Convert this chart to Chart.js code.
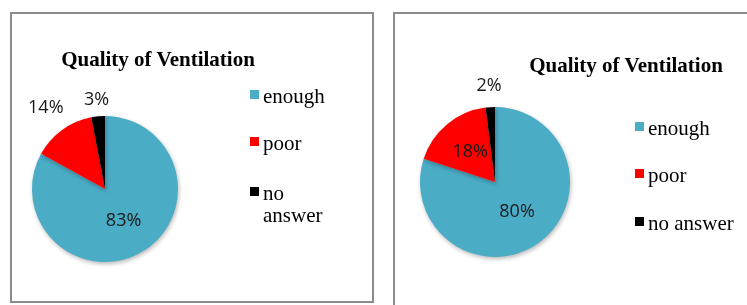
<!DOCTYPE html>
<html>
<head>
<meta charset="utf-8">
<script src="https://cdn.jsdelivr.net/npm/chart.js@4"></script>
<style>
    body { margin: 0; background: #fff; width: 747px; height: 305px; overflow: hidden; position: relative; }
    .panel { position: absolute; border: 2px solid #8c8c8c; box-sizing: border-box; }
    canvas { position: absolute; }
    .title { position: absolute; font-family: 'Liberation Serif', 'Times New Roman', serif; font-weight: bold;
             font-size: 21px; line-height: 21px; color: #000; white-space: nowrap; transform: translateX(-50%); }
    .legend-item { position: absolute; font-family: 'Liberation Serif', 'Times New Roman', serif;
                   font-size: 21px; line-height: 22px; color: #000; }
    .legend-item .box { position: absolute; left: 0; top: 5px; width: 9px; height: 9px; }
    .legend-item .txt { position: absolute; top: 0; }
</style>
</head>
<body>
<div class="panel" style="left:10px; top:12px; width:364px; height:291px;"></div>
<div class="panel" style="left:393px; top:12px; width:400px; height:320px;"></div>

<canvas id="leftChart" width="360" height="286" style="left:12px; top:14px;"></canvas>
<canvas id="rightChart" width="350" height="291" style="left:397px; top:14px;"></canvas>

<div class="title" style="left:158px; top:49px;">Quality of Ventilation</div>
<div class="title" style="left:626px; top:55px;">Quality of Ventilation</div>
<div id="leftLegend"></div>
<div id="rightLegend"></div>

<script>
// data
const categories = ['enough', 'poor', 'no answer'];
const leftValues = [83, 14, 3];
const rightValues = [80, 18, 2];
const sliceColors = ['#4BACC6', '#FF0000', '#000000'];

// percent labels drawn at a fraction of the radius along each slice's mid angle
const pctLabels = {
    id: 'pctLabels',
    afterDatasetsDraw(chart, args, opts) {
        const ctx = chart.ctx;
        const meta = chart.getDatasetMeta(0);
        const values = chart.data.datasets[0].data;
        ctx.save();
        ctx.font = '18px "Open Sans", sans-serif';
        ctx.fillStyle = '#1a1a1a';
        ctx.textAlign = 'center';
        ctx.textBaseline = 'middle';
        meta.data.forEach(function (arc, i) {
            const mid = (arc.startAngle + arc.endAngle) / 2;
            const r = arc.outerRadius * opts.radius[i];
            ctx.fillText(values[i] + '%', arc.x + Math.cos(mid) * r, arc.y + Math.sin(mid) * r);
        });
        ctx.restore();
    }
};

// soft shadow like the office pie
const pieShadow = {
    id: 'pieShadow',
    beforeDatasetsDraw(chart) {
        const ctx = chart.ctx;
        ctx.save();
        ctx.shadowColor = 'rgba(0,0,0,0.28)';
        ctx.shadowBlur = 4;
        ctx.shadowOffsetX = 1;
        ctx.shadowOffsetY = 2;
    },
    afterDatasetsDraw(chart) {
        chart.ctx.restore();
    }
};

function makePie(id, values, padding, labelRadius) {
    const ctx = document.getElementById(id).getContext('2d');
    return new Chart(ctx, {
        type: 'pie',
        data: {
            labels: categories,
            datasets: [{
                data: values,
                backgroundColor: sliceColors,
                borderWidth: 0
            }]
        },
        options: {
            responsive: false,
            animation: false,
            layout: { padding: padding },
            plugins: {
                legend: { display: false },
                tooltip: { enabled: false },
                pctLabels: { radius: labelRadius }
            }
        },
        plugins: [pieShadow, pctLabels]
    });
}

makePie('leftChart', leftValues, { left: 20, top: 102, right: 194, bottom: 38 }, [0.5, 1.38, 1.23]);
makePie('rightChart', rightValues, { left: 23, top: 93, right: 177, bottom: 48 }, [0.5, 0.52, 1.28]);

// html legends
function buildLegend(elId, left, tops, textLeft, textWidth) {
    const host = document.getElementById(elId);
    categories.forEach(function (name, i) {
        const item = document.createElement('div');
        item.className = 'legend-item';
        item.style.left = left + 'px';
        item.style.top = tops[i] + 'px';
        item.innerHTML = '<span class="box" style="background:' + sliceColors[i] + '"></span>' +
            '<span class="txt" style="left:' + textLeft + 'px; width:' + textWidth + 'px">' + name + '</span>';
        host.appendChild(item);
    });
}

buildLegend('leftLegend', 250, [85, 132, 182], 13, 70);
buildLegend('rightLegend', 635, [117, 164, 212], 13, 110);
</script>
</body>
</html>
